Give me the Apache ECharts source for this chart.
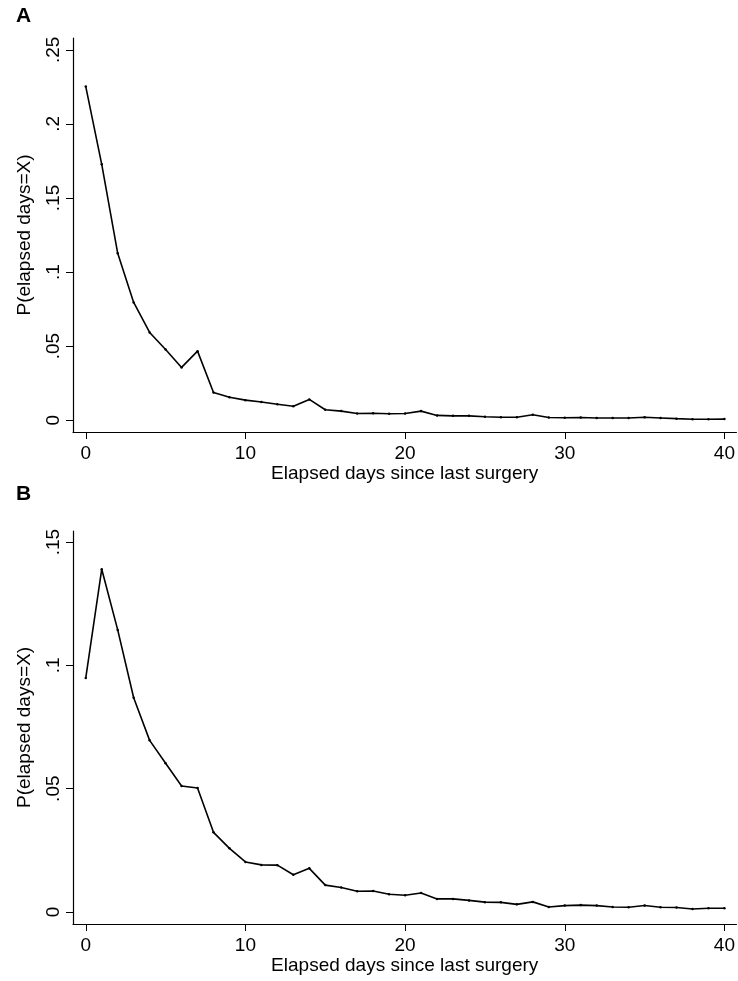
<!DOCTYPE html>
<html>
<head>
<meta charset="utf-8">
<script src="https://cdn.jsdelivr.net/npm/echarts@6/dist/echarts.min.js"></script>
<style>
  html, body { margin: 0; padding: 0; background: #fff; }
  #chart { width: 738px; height: 981px; }
</style>
</head>
<body>
<div id="chart"></div>
<script>
// elapsed days 0..40
var days = [0,1,2,3,4,5,6,7,8,9,10,11,12,13,14,15,16,17,18,19,20,
            21,22,23,24,25,26,27,28,29,30,31,32,33,34,35,36,37,38,39,40];

// panel A
var probA = [0.2252,0.1727,0.1126,0.0795,0.0592,0.0477,0.0356,0.0466,0.0187,0.0155,0.0135,
             0.0123,0.0107,0.0094,0.0140,0.0070,0.0061,0.0045,0.0047,0.0043,0.0045,
             0.0061,0.0032,0.0029,0.0029,0.0023,0.0020,0.0020,0.0036,0.0018,0.0016,
             0.0018,0.0015,0.0015,0.0015,0.0020,0.0015,0.0010,0.0006,0.0006,0.0007];
// panel B
var probB = [0.0949,0.1390,0.1144,0.0869,0.0696,0.0603,0.0511,0.0503,0.0323,0.0258,0.0203,
             0.0191,0.0190,0.0151,0.0177,0.0109,0.0099,0.0084,0.0085,0.0072,0.0068,
             0.0077,0.0053,0.0053,0.0047,0.0040,0.0039,0.0031,0.0041,0.0020,0.0026,
             0.0028,0.0026,0.0020,0.0019,0.0026,0.0019,0.0018,0.0012,0.0015,0.0015];

var xTicks = [0, 10, 20, 30, 40];
var yTicksA = [0, 0.05, 0.1, 0.15, 0.2, 0.25];
var yTicksB = [0, 0.05, 0.1, 0.15];

var FONT = 'Liberation Sans, Arial, Helvetica, sans-serif';

function pairs(ys) {
    return days.map(function (d, i) { return [d, ys[i]]; });
}

function stataNum(v) {
    if (v === 0) return '0';
    return String(Math.round(v * 100) / 100).replace(/^0/, '');
}

function xAxisFor(idx) {
    return {
        type: 'value',
        gridIndex: idx,
        min: -0.8,
        max: 40.75,
        name: 'Elapsed days since last surgery',
        nameLocation: 'middle',
        nameGap: 30,
        nameTextStyle: { color: '#000', fontSize: 19, fontFamily: FONT },
        splitLine: { show: false },
        axisLine: { onZero: false, lineStyle: { color: '#000', width: 1.2 } },
        axisTick: { customValues: xTicks, length: 7, lineStyle: { color: '#000' } },
        axisLabel: { customValues: xTicks, margin: 12, color: '#000', fontSize: 19, fontFamily: FONT }
    };
}

function yAxisFor(idx, lo, hi, ticks) {
    return {
        type: 'value',
        gridIndex: idx,
        min: lo,
        max: hi,
        name: 'P(elapsed days=X)',
        nameLocation: 'middle',
        nameGap: 39,
        nameTextStyle: { color: '#000', fontSize: 19, fontFamily: FONT },
        splitLine: { show: false },
        axisLine: { onZero: false, lineStyle: { color: '#000', width: 1.2 } },
        axisTick: { customValues: ticks, length: 7, lineStyle: { color: '#000' } },
        axisLabel: {
            customValues: ticks, rotate: 90, margin: 10,
            color: '#000', fontSize: 19, fontFamily: FONT,
            formatter: stataNum
        }
    };
}

function lineFor(idx, ys) {
    return {
        type: 'line',
        xAxisIndex: idx,
        yAxisIndex: idx,
        data: pairs(ys),
        symbol: 'circle',
        symbolSize: 2.5,
        showSymbol: true,
        itemStyle: { color: '#000' },
        lineStyle: { color: '#000', width: 1.6 },
        animation: false
    };
}

var chart = echarts.init(document.getElementById('chart'), null, { renderer: 'canvas' });
chart.setOption({
    backgroundColor: '#fff',
    animation: false,
    grid: [
        { left: 73, right: 0, top: 38, bottom: 549 },
        { left: 73, right: 0, top: 531, bottom: 57 }
    ],
    xAxis: [xAxisFor(0), xAxisFor(1)],
    yAxis: [
        yAxisFor(0, -0.008, 0.258, yTicksA),
        yAxisFor(1, -0.00487, 0.1545, yTicksB)
    ],
    series: [lineFor(0, probA), lineFor(1, probB)],
    graphic: [
        { type: 'text', left: 16, top: 6, style: { text: 'A', font: 'bold 21px ' + FONT, fill: '#000' } },
        { type: 'text', left: 16, top: 484, style: { text: 'B', font: 'bold 21px ' + FONT, fill: '#000' } }
    ]
});
</script>
</body>
</html>
